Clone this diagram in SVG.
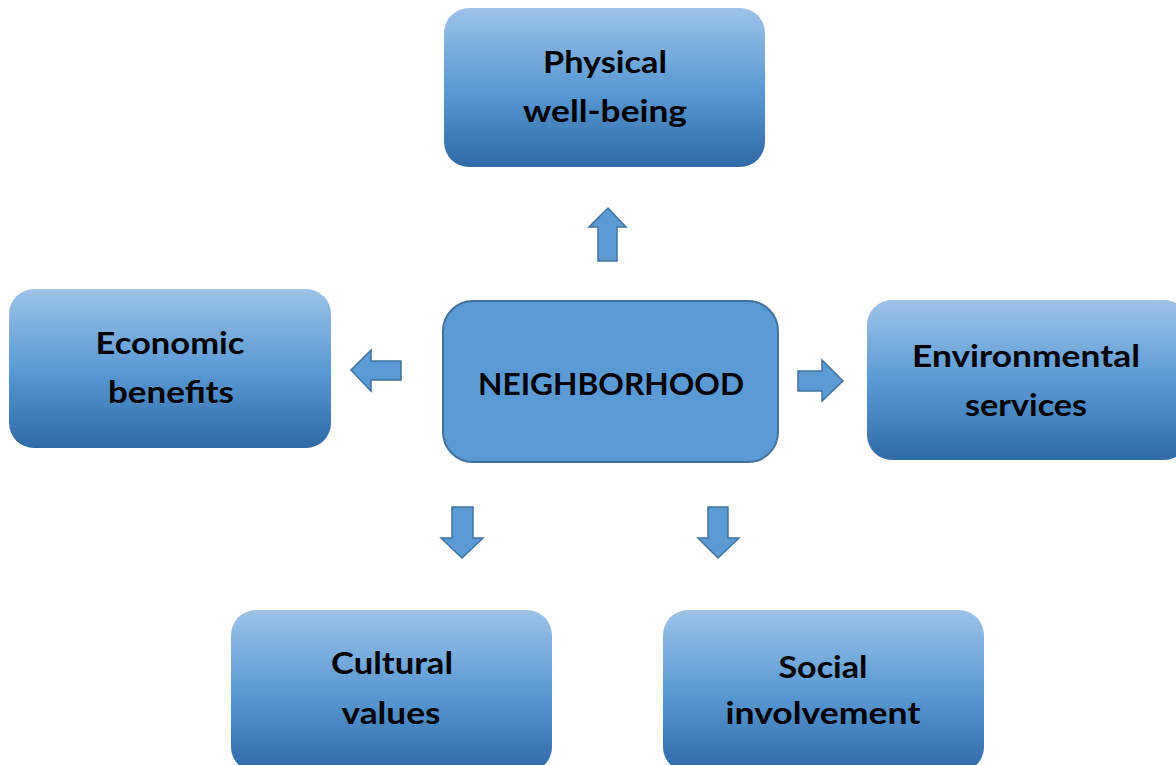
<svg xmlns="http://www.w3.org/2000/svg" width="1176" height="765" viewBox="0 0 1176 765">
<defs>
<linearGradient id="g" x1="0" y1="0" x2="0" y2="1">
<stop offset="0" stop-color="#9dc3e6"/>
<stop offset="0.5" stop-color="#5b9bd5"/>
<stop offset="1" stop-color="#2f6aa6"/>
</linearGradient>
<style>
.box{fill:url(#g);}
.center{fill:#5b9bd5;stroke:#41719c;stroke-width:2;}
.arr{fill:#5b9bd5;stroke:#41719c;stroke-width:1.5;stroke-linejoin:miter;}
text{font-family:Lato,"Open Sans","Liberation Sans",sans-serif;font-weight:bold;font-size:31px;fill:#000;text-anchor:middle;}
</style>
</defs>
<rect width="1176" height="765" fill="#fff"/>
<g id="node-physical">
<rect class="box" x="444" y="8" width="321" height="159" rx="25"/>
<text x="605" y="73" textLength="124" lengthAdjust="spacingAndGlyphs">Physical</text>
<text x="605" y="122" textLength="164" lengthAdjust="spacingAndGlyphs">well-being</text>
</g>
<g id="node-economic">
<rect class="box" x="9" y="289" width="322" height="159" rx="25"/>
<text x="170" y="354" textLength="149" lengthAdjust="spacingAndGlyphs">Economic</text>
<text x="171" y="403" textLength="126" lengthAdjust="spacingAndGlyphs">benefits</text>
</g>
<g id="node-neighborhood">
<rect class="center" x="443" y="301" width="335" height="161" rx="30"/>
<text x="611" y="395" textLength="266" lengthAdjust="spacingAndGlyphs">NEIGHBORHOOD</text>
</g>
<g id="node-environmental">
<rect class="box" x="867" y="300" width="322" height="160" rx="25"/>
<text x="1026" y="367" textLength="228" lengthAdjust="spacingAndGlyphs">Environmental</text>
<text x="1026" y="416" textLength="122" lengthAdjust="spacingAndGlyphs">services</text>
</g>
<g id="node-cultural">
<rect class="box" x="231" y="610" width="321" height="162" rx="25"/>
<text x="392" y="674" textLength="122" lengthAdjust="spacingAndGlyphs">Cultural</text>
<text x="391" y="724" textLength="99" lengthAdjust="spacingAndGlyphs">values</text>
</g>
<g id="node-social">
<rect class="box" x="663" y="610" width="321" height="162" rx="25"/>
<text x="823" y="678" textLength="89" lengthAdjust="spacingAndGlyphs">Social</text>
<text x="823" y="724" textLength="195" lengthAdjust="spacingAndGlyphs">involvement</text>
</g>
<g id="connectors">
<polygon class="arr" points="598,261 617,261 617,227 626,227 608,208 589,227 598,227"/>
<polygon class="arr" points="401,361 401,380 371,380 371,391 351,370 371,350 371,361"/>
<polygon class="arr" points="798,371 822,371 822,360 843,381 822,401 822,391 798,391"/>
<polygon class="arr" points="452,507 473,507 473,538 483,538 462,558 441,538 452,538"/>
<polygon class="arr" points="708,507 728,507 728,538 739,538 718,558 698,538 708,538"/>
</g>
</svg>
